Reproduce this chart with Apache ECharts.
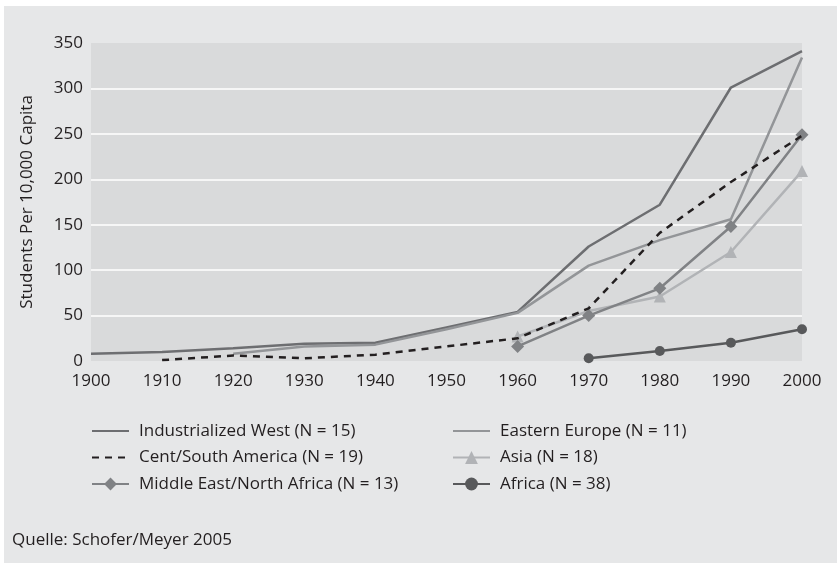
<!DOCTYPE html>
<html>
<head>
<meta charset="utf-8">
<script src="https://cdn.jsdelivr.net/npm/echarts@6/dist/echarts.min.js"></script>
<style>
  html, body { margin: 0; padding: 0; background: #fff; }
  #main { width: 837px; height: 563px; }
</style>
</head>
<body>
<div id="main"></div>
<script>
var years = ['1900', '1910', '1920', '1930', '1940', '1950', '1960', '1970', '1980', '1990', '2000'];

var industrializedWest = [8, 10, 14, 19, 20, 37, 54, 126, 172, 301, 341];
var easternEurope = [null, null, 8, 16, 18, 35, 53, 105, 133, 156, 334];
var centSouthAmerica = [null, 1, 6, 3, 7, 16, 25, 58, 141, 197, 248];
var asia = [null, null, null, null, null, null, 27, 55, 71, 120, 209];
var middleEast = [null, null, null, null, null, null, 16, 50, 80, 148, 249];
var africa = [null, null, null, null, null, null, null, 3, 11, 20, 35];

var fontFamily = 'Open Sans';
var textColor = '#231f20';

var chartDom = document.getElementById('main');
var myChart = echarts.init(chartDom);

function lineSeries(name, data, color, opts) {
    var s = {
        name: name,
        type: 'line',
        data: data,
        connectNulls: false,
        symbol: 'none',
        showSymbol: false,
        lineStyle: { color: color, width: 2.5 },
        itemStyle: { color: color },
        z: 3
    };
    return Object.assign(s, opts || {});
}

// plain line entries get no marker in the legend
function plain(name) {
    return { name: name, itemStyle: { opacity: 0 } };
}

var legendText = {
    color: textColor,
    fontFamily: fontFamily,
    fontSize: 17,
    lineHeight: 20,
    padding: [0, 0, 0, 5]
};

var option = {
    backgroundColor: '#ffffff',
    animation: false,
    graphic: [{
        type: 'rect',
        shape: { x: 4, y: 6, width: 833, height: 557 },
        style: { fill: '#e6e7e8' },
        z: -10
    }, {
        type: 'text',
        left: 12,
        top: 532,
        style: {
            text: 'Quelle: Schofer/Meyer 2005',
            fill: textColor,
            font: '17px "Open Sans"'
        }
    }],
    grid: {
        left: 91,
        right: 35,
        top: 43,
        bottom: 202,
        show: true,
        backgroundColor: '#d9dadb',
        borderWidth: 0
    },
    legend: [{
        orient: 'vertical',
        left: 91,
        top: 421,
        padding: 0,
        itemWidth: 37,
        itemHeight: 16,
        itemGap: 6.5,
        data: [plain('Industrialized West (N = 15)'), plain('Cent/South America (N = 19)'), 'Middle East/North Africa (N = 13)'],
        textStyle: legendText
    }, {
        orient: 'vertical',
        left: 452,
        top: 421,
        padding: 0,
        itemWidth: 37,
        itemHeight: 16,
        itemGap: 6.5,
        data: [plain('Eastern Europe (N = 11)'), 'Asia (N = 18)', 'Africa (N = 38)'],
        textStyle: legendText
    }],
    xAxis: {
        type: 'category',
        data: years,
        boundaryGap: false,
        axisLine: { show: false },
        axisTick: { show: false },
        axisLabel: {
            color: textColor,
            fontFamily: fontFamily,
            fontSize: 17,
            margin: 12
        },
        splitLine: { show: false }
    },
    yAxis: {
        type: 'value',
        min: 0,
        max: 350,
        interval: 50,
        name: 'Students Per 10,000 Capita',
        nameLocation: 'middle',
        nameGap: 55,
        nameTextStyle: {
            color: textColor,
            fontFamily: fontFamily,
            fontSize: 17
        },
        axisLine: { show: false },
        axisTick: { show: false },
        axisLabel: {
            color: textColor,
            fontFamily: fontFamily,
            fontSize: 17,
            margin: 8
        },
        splitLine: {
            lineStyle: {
                color: ['transparent', '#ffffff', '#ffffff', '#ffffff', '#ffffff', '#ffffff', '#ffffff', 'transparent'],
                width: 1.5
            }
        }
    },
    series: [
        lineSeries('Industrialized West (N = 15)', industrializedWest, '#6d6e71'),
        lineSeries('Eastern Europe (N = 11)', easternEurope, '#939598'),
        lineSeries('Cent/South America (N = 19)', centSouthAmerica, '#231f20', {
            lineStyle: { color: '#231f20', width: 2.5, type: [7, 6] },
            z: 4
        }),
        lineSeries('Asia (N = 18)', asia, '#b1b3b6', {
            symbol: 'triangle', showSymbol: true, symbolSize: 12
        }),
        lineSeries('Middle East/North Africa (N = 13)', middleEast, '#808285', {
            symbol: 'diamond', showSymbol: true, symbolSize: [13, 13]
        }),
        lineSeries('Africa (N = 38)', africa, '#58595b', {
            symbol: 'circle', showSymbol: true, symbolSize: 10
        })
    ]
};

option && myChart.setOption(option);
</script>
</body>
</html>
